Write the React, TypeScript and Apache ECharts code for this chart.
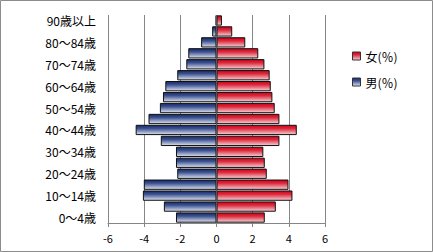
import React, { useEffect, useRef } from "react";
import * as echarts from "echarts";

const categories = [
  "0～4歳", "5～9歳", "10～14歳", "15～19歳", "20～24歳", "25～29歳",
  "30～34歳", "35～39歳", "40～44歳", "45～49歳", "50～54歳", "55～59歳",
  "60～64歳", "65～69歳", "70～74歳", "75～79歳", "80～84歳", "85～89歳", "90歳以上",
];
const maleValues = [2.24, 2.91, 4.07, 4.02, 2.17, 2.24, 2.24, 3.08, 4.47, 3.76, 3.13, 2.96, 2.83, 2.17, 1.67, 1.56, 0.85, 0.24, 0.04];
const femaleValues = [2.67, 3.28, 4.2, 3.98, 2.78, 2.67, 2.59, 3.48, 4.44, 3.48, 3.22, 3.09, 3.0, 2.94, 2.65, 2.31, 1.59, 0.87, 0.3];
const xTicks = { min: -6, max: 6, interval: 2 };
const femaleName = "女(％)";
const maleName = "男(％)";

const grad = (top: string, mid: string, bottom: string) =>
  new echarts.graphic.LinearGradient(0, 0, 0, 1, [
    { offset: 0, color: top },
    { offset: 0.35, color: mid },
    { offset: 1, color: bottom },
  ]);

export default function App() {
  const ref = useRef<HTMLDivElement>(null);
  useEffect(() => {
    document.body.style.margin = "0";
    const chart = echarts.init(ref.current!, null, { renderer: "svg" });
    const font = "'Noto Sans CJK JP', 'Noto Sans', sans-serif";
    const blue = () => grad("#17296a", "#3c5290", "#dfe3f0");
    const red = () => grad("#d0001a", "#dc2a3c", "#f6d2d7");
    chart.setOption({
      animation: false,
      backgroundColor: "#ffffff",
      textStyle: { fontFamily: font },
      graphic: [
        {
          type: "rect",
          shape: { x: 0.5, y: 0.5, width: 432, height: 251 },
          style: { fill: "none", stroke: "#8c8c8c", lineWidth: 1 },
          silent: true,
        },
      ],
      legend: {
        orient: "vertical",
        left: 347,
        top: 45,
        icon: "rect",
        itemWidth: 8,
        itemHeight: 8,
        itemGap: 14,
        textStyle: { fontSize: 12, color: "#000", fontFamily: font },
        data: [
          { name: femaleName, itemStyle: { color: red(), borderColor: "#333", borderWidth: 1 } },
          { name: maleName, itemStyle: { color: blue(), borderColor: "#333", borderWidth: 1 } },
        ],
      },
      grid: { left: 108, right: 108, top: 15, bottom: 29, containLabel: false },
      xAxis: {
        type: "value",
        min: xTicks.min,
        max: xTicks.max,
        interval: xTicks.interval,
        axisLine: { show: true, lineStyle: { color: "#868686" } },
        axisTick: { show: true, length: 4, lineStyle: { color: "#868686" } },
        axisLabel: { color: "#000", fontSize: 11, margin: 9, fontFamily: font },
        splitLine: { show: true, lineStyle: { color: "#868686", width: 1 } },
      },
      yAxis: {
        type: "category",
        data: categories,
        axisLine: { show: false },
        axisTick: { show: false },
        axisLabel: { interval: 1, color: "#000", fontSize: 12, margin: 12, fontFamily: font },
        splitLine: { show: false },
      },
      series: [
        {
          name: maleName,
          type: "bar",
          data: maleValues.map((v) => -v),
          barGap: "-100%",
          barCategoryGap: "6%",
          itemStyle: { color: blue(), borderColor: "#111", borderWidth: 1 },
          markLine: {
            silent: true,
            symbol: "none",
            label: { show: false },
            lineStyle: { color: "#555", type: "solid", width: 1.2 },
            data: [{ xAxis: 0 }],
          },
          z: 3,
        },
        {
          name: femaleName,
          type: "bar",
          data: femaleValues,
          barGap: "-100%",
          barCategoryGap: "6%",
          itemStyle: { color: red(), borderColor: "#111", borderWidth: 1 },
          z: 3,
        },
      ],
    });
    return () => chart.dispose();
  }, []);
  return <div ref={ref} style={{ width: 433, height: 252 }} />;
}
